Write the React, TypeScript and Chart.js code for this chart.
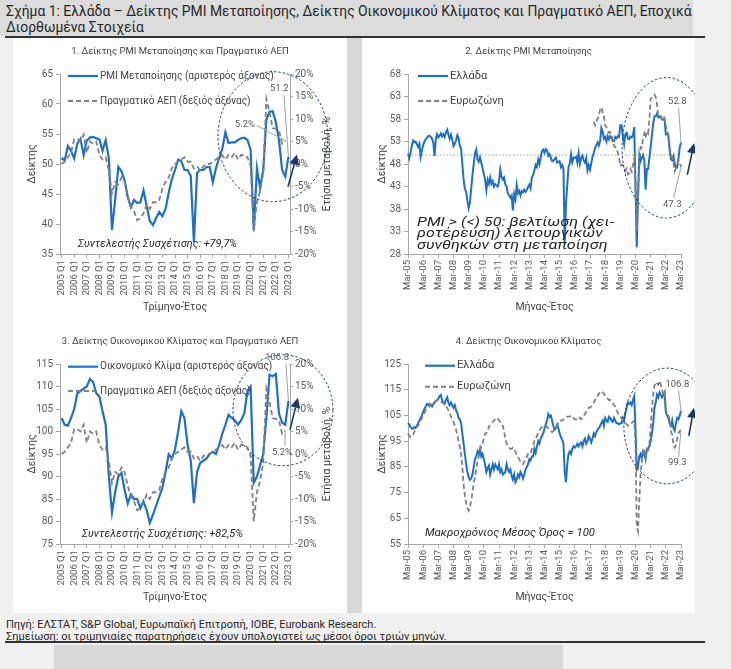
import React, { useEffect, useRef } from 'react';
import { Chart, registerables } from 'chart.js';

Chart.register(...registerables);

const FONT = "Roboto, 'Noto Sans', sans-serif";
Chart.defaults.font.family = FONT;

const BLUE = '#1f70c1';
const GREY = '#808080';
const NAVY = '#203864';
const AXIS = '#a6a6a6';
const TICK = '#595959';
const TEXT = '#404040';

// ---------------- categories ----------------
const quarterYears = [2005, 2006, 2007, 2008, 2009, 2010, 2011, 2012, 2013, 2014, 2015, 2016, 2017, 2018, 2019, 2020, 2021, 2022, 2023];
const quarterNames = ['Q1', 'Q2', 'Q3', 'Q4'];
const quarterCount = 73; // 2005 Q1 .. 2023 Q1
const quarterLabels: string[] = quarterYears.flatMap((y) => quarterNames.map((q) => `${y} ${q}`)).slice(0, quarterCount);

const monthNames = ['Jan', 'Feb', 'Mar', 'Apr', 'May', 'Jun', 'Jul', 'Aug', 'Sep', 'Oct', 'Nov', 'Dec'];
const monthCount = 217; // Mar-05 .. Mar-23
const monthLabels: string[] = quarterYears
  .flatMap((y) => monthNames.map((m) => `${m}-${String(y).slice(2)}`))
  .slice(2, 2 + monthCount);

// ---------------- panel 1 & 3 (quarterly) ----------------
const pmiQuarterly = [
  51.0, 50.6, 53.0, 52.2,
  50.9, 53.4, 54.2, 51.5,
  53.9, 54.4, 54.5, 54.3,
  54.1, 52.2, 54.0, 51.0,
  39.0, 44.0, 49.5, 48.8,
  47.3, 44.5, 42.8, 44.0,
  43.5, 43.6, 45.6, 43.0,
  40.5, 39.8, 41.0, 42.0,
  41.3, 42.5, 45.2, 47.5,
  49.0, 50.7, 50.5, 49.0,
  49.0, 48.0, 37.0, 48.5,
  49.0, 49.0, 49.5, 49.5,
  47.0, 49.3, 51.0, 52.5,
  55.3, 53.5, 53.6, 53.6,
  54.0, 54.3, 54.4, 54.0,
  52.4, 39.0, 49.3, 46.0,
  49.0, 57.4, 58.7, 58.8,
  57.0, 54.0, 49.0, 47.9,
  51.2,
];

const gdpQuarterly = [
  0.0, 0.5, 1.5, 2.5,
  5.5, 5.5, 5.0, 6.5,
  2.5, 5.0, 4.5, 5.0,
  2.0, 1.0, 1.5, -1.5,
  -6.5, -4.0, -4.5, -3.0,
  -4.0, -7.0, -9.5, -10.5,
  -12.5, -12.0, -11.0, -9.0,
  -10.0, -8.5, -8.5, -8.0,
  -5.5, -4.0, -3.0, -1.0,
  0.0, 0.5, 1.0, 1.5,
  0.5, 0.5, -1.0, -0.5,
  -1.5, -0.5, 0.0, 0.0,
  0.5, 1.0, 1.5, 2.0,
  1.0, 2.0, 1.5, 2.5,
  1.0, 2.0, 2.0, 1.5,
  -0.5, -15.0, -8.5, -6.0,
  -2.0, 14.5, 11.5, 8.0,
  7.8, 7.5, 4.5, 5.2,
  null,
];

const esiQuarterly = [
  103.0, 101.5, 101.3, 103.0,
  105.0, 108.5, 109.0, 109.5,
  110.0, 111.7, 111.0, 108.5,
  107.8, 104.5, 101.5, 90.0,
  82.0, 86.5, 90.0, 90.8,
  87.0, 84.0, 86.0, 85.0,
  85.0, 83.0, 84.5, 82.5,
  79.7, 81.5, 83.5, 85.5,
  87.5, 91.0, 94.9, 94.0,
  96.0, 100.0, 104.5, 103.0,
  97.0, 93.5, 84.1, 91.0,
  93.0, 93.5, 94.0, 95.0,
  95.5, 95.0, 97.0, 99.5,
  101.5, 103.7, 103.0, 102.5,
  101.5, 102.5, 104.0, 109.0,
  110.0, 88.6, 90.0, 92.5,
  95.0, 103.0, 112.6, 112.3,
  112.8, 104.0, 102.0, 101.5,
  106.8,
];

// ---------------- panel 2 (monthly PMI) ----------------
const pmiGreece = [
  50.3, 49.3, 50.5, 52.0, 53.2, 52.8, 53.0, 52.4, 51.8, 52.5, // 2005 Mar-Dec
  49.6, 51.0, 52.2, 53.0, 53.5, 53.8, 54.2, 54.3, 54.0, 53.6, 52.8, 49.8, // 2006
  53.5, 54.6, 53.9, 54.3, 54.8, 54.1, 54.6, 54.0, 55.0, 55.6, 54.5, 53.6, // 2007
  54.5, 53.5, 52.0, 52.5, 53.2, 54.4, 53.8, 52.0, 51.5, 48.0, 44.5, 42.5, // 2008
  41.8, 39.8, 38.2, 39.5, 42.5, 45.5, 48.0, 50.4, 51.2, 49.0, 48.5, 49.5, // 2009
  48.3, 47.0, 45.8, 44.5, 42.2, 44.5, 43.6, 45.0, 43.6, 44.2, 43.0, 43.5, // 2010
  43.2, 43.0, 44.0, 46.8, 45.2, 44.6, 45.0, 43.4, 43.0, 41.5, 41.0, 40.5, // 2011
  41.0, 37.7, 41.3, 40.2, 43.3, 41.5, 42.0, 41.0, 42.0, 41.7, 42.3, 41.8, // 2012
  42.2, 42.9, 43.4, 42.6, 45.0, 45.6, 46.6, 47.8, 47.3, 49.0, 48.0, 49.5, // 2013
  50.9, 51.2, 50.5, 51.3, 51.0, 49.8, 50.2, 49.5, 48.6, 48.7, 49.1, 49.4, // 2014
  48.3, 48.5, 48.6, 47.3, 47.8, 46.9, 30.2, 39.1, 43.3, 47.3, 48.1, 50.2, // 2015
  48.4, 49.4, 49.4, 49.6, 48.3, 50.4, 48.0, 49.3, 49.8, 48.8, 48.3, 49.3, // 2016
  46.6, 47.7, 46.7, 48.2, 49.6, 50.5, 51.6, 52.2, 52.8, 52.1, 53.1, 56.0, // 2017
  55.2, 53.6, 54.0, 53.0, 54.2, 53.5, 54.2, 53.8, 53.1, 53.1, 54.0, 53.7, // 2018
  54.2, 54.0, 56.6, 56.6, 54.2, 52.4, 54.6, 54.9, 53.6, 53.5, 54.1, 53.9, // 2019
  54.4, 56.2, 42.5, 29.5, 41.1, 49.9, 48.6, 49.4, 50.0, 48.7, 42.3, 46.9, // 2020
  46.9, 49.4, 51.8, 54.4, 57.0, 58.6, 58.6, 59.2, 58.4, 58.5, 58.6, 57.9, // 2021
  57.9, 57.8, 54.6, 54.7, 54.3, 51.1, 49.1, 48.8, 49.7, 48.1, 47.2, 47.2, // 2022
  49.2, 51.7, 52.8, // 2023 Jan-Mar
];

const pmiEurozoneFrom = 'Jun-17';
const pmiEurozoneValues = [
  57.4, 56.6, 57.4, 58.1, 58.5, 60.1, 60.6, // 2017 Jun-Dec
  59.6, 58.6, 56.6, 56.2, 55.5, 54.9, 55.1, 54.6, 53.2, 52.0, 51.8, 51.4, // 2018
  50.5, 49.3, 47.5, 47.9, 47.7, 47.6, 46.5, 47.0, 45.7, 45.9, 46.9, 46.3, // 2019
  47.9, 49.2, 44.5, 33.4, 39.4, 47.4, 51.8, 51.7, 53.7, 54.8, 53.8, 55.2, // 2020
  54.8, 57.9, 62.5, 62.9, 63.1, 63.4, 62.8, 61.4, 58.6, 58.3, 58.4, 58.0, // 2021
  58.7, 58.2, 56.5, 55.5, 54.6, 52.1, 49.8, 49.6, 48.4, 46.4, 47.1, 47.8, // 2022
  48.8, 48.5, 47.3, // 2023
];
const pmiEurozone: (number | null)[] = monthLabels.map((_, i) => {
  const start = monthLabels.indexOf(pmiEurozoneFrom);
  return i >= start ? pmiEurozoneValues[i - start] : null;
});

// ---------------- panel 4 (monthly ESI) ----------------
const esiGreece = [
  102.0, 101.5, 100.5, 100.0, 99.8, 100.5, 100.2, 101.0, 102.0, 103.0, // 2005 Mar-Dec
  104.0, 105.0, 106.5, 107.5, 108.5, 109.5, 109.0, 109.5, 109.0, 108.5, 109.5, 110.0, // 2006
  110.5, 111.0, 111.5, 112.5, 113.0, 111.0, 110.0, 109.5, 111.0, 112.0, 110.0, 109.0, // 2007
  110.0, 109.0, 108.0, 109.0, 107.0, 106.0, 104.0, 103.5, 102.0, 98.0, 94.0, 90.0, // 2008
  86.0, 83.0, 81.0, 80.0, 80.5, 82.0, 85.0, 88.0, 89.0, 91.0, 90.0, 92.0, // 2009
  89.0, 90.0, 88.0, 86.0, 83.0, 84.5, 85.5, 82.0, 84.0, 86.0, 84.0, 86.0, // 2010
  85.0, 84.0, 86.0, 83.0, 84.0, 82.0, 82.5, 83.0, 86.0, 84.0, 83.0, 84.0, // 2011
  81.5, 80.0, 82.0, 79.0, 80.0, 82.0, 81.0, 83.0, 82.0, 80.5, 82.0, 84.0, // 2012
  85.0, 86.0, 88.0, 87.5, 89.0, 89.0, 92.0, 90.5, 93.0, 95.0, 94.0, 96.0, // 2013
  97.0, 98.0, 100.0, 101.5, 103.0, 105.5, 104.5, 105.0, 103.0, 101.0, 99.5, 100.0, // 2014
  101.5, 100.0, 98.0, 96.5, 95.5, 94.0, 83.0, 79.0, 86.0, 90.0, 91.0, 90.0, // 2015
  92.0, 93.0, 92.5, 93.0, 94.0, 93.0, 94.0, 94.5, 93.0, 95.0, 96.0, 94.0, // 2016
  95.0, 97.0, 96.0, 94.5, 96.0, 98.0, 97.0, 98.5, 99.5, 100.0, 101.0, 102.0, // 2017
  103.0, 101.0, 104.0, 103.0, 102.5, 104.5, 104.0, 103.0, 102.5, 104.0, 103.0, 102.0, // 2018
  102.0, 101.5, 102.0, 102.0, 104.0, 103.0, 106.0, 108.0, 110.0, 109.5, 110.0, 109.0, // 2019
  111.0, 112.5, 100.0, 84.0, 85.0, 89.0, 90.0, 88.0, 91.0, 90.0, 88.0, 92.0, // 2020
  92.0, 93.0, 95.0, 98.0, 102.0, 108.0, 110.0, 113.0, 112.0, 114.0, 113.0, 112.0, // 2021
  113.0, 114.0, 106.0, 105.0, 104.0, 102.0, 101.0, 103.0, 100.0, 99.0, 102.0, 104.0, // 2022
  103.5, 105.0, 106.8, // 2023
];

const esiEurozone = [
  98.0, 97.0, 96.5, 97.0, 97.5, 98.5, 99.5, 100.5, 101.0, 102.0, // 2005 Mar-Dec
  103.0, 104.0, 105.0, 106.0, 107.0, 107.5, 108.0, 108.5, 109.0, 109.5, 110.0, 110.5, // 2006
  110.5, 111.0, 111.0, 111.0, 110.5, 110.0, 110.0, 109.0, 108.5, 108.0, 107.0, 106.0, // 2007
  104.5, 103.5, 102.5, 101.0, 99.5, 97.5, 95.0, 93.0, 90.0, 85.0, 78.0, 74.0, // 2008
  71.0, 69.0, 68.0, 69.5, 72.0, 75.0, 78.5, 81.0, 84.0, 87.0, 89.0, 91.0, // 2009
  93.0, 94.0, 96.0, 98.0, 98.0, 99.0, 100.5, 101.5, 102.0, 102.5, 103.0, 103.5, // 2010
  103.5, 104.0, 103.0, 102.5, 102.0, 101.0, 99.0, 96.0, 94.0, 93.0, 92.5, 92.0, // 2011
  92.0, 92.5, 92.0, 91.0, 89.5, 89.0, 88.0, 87.0, 86.5, 86.0, 87.0, 88.0, // 2012
  89.0, 90.0, 90.0, 90.0, 92.0, 93.0, 95.0, 96.0, 97.0, 98.0, 99.0, 100.0, // 2013
  100.5, 101.0, 101.0, 101.0, 100.5, 100.0, 99.5, 99.0, 98.5, 99.0, 99.5, 100.0, // 2014
  101.0, 102.0, 103.0, 103.0, 103.0, 103.5, 104.0, 104.0, 104.5, 104.5, 104.5, 105.0, // 2015
  104.5, 104.0, 103.5, 103.5, 104.0, 104.5, 104.0, 103.5, 104.0, 105.0, 105.5, 106.5, // 2016
  107.0, 108.0, 108.0, 108.5, 109.0, 110.0, 111.0, 111.5, 112.5, 113.5, 114.0, 114.5, // 2017
  114.0, 113.5, 112.5, 112.0, 111.5, 111.0, 111.0, 110.5, 110.0, 109.0, 108.5, 107.0, // 2018
  106.0, 105.0, 104.5, 104.0, 103.0, 102.5, 102.0, 101.5, 101.0, 101.0, 101.5, 102.0, // 2019
  102.5, 103.0, 94.0, 62.0, 60.0, 72.0, 82.0, 87.0, 90.0, 91.0, 89.0, 92.0, // 2020
  91.5, 94.0, 100.5, 108.0, 113.0, 116.5, 118.0, 117.5, 117.0, 118.5, 117.0, 115.0, // 2021
  113.0, 114.0, 108.0, 105.0, 105.0, 103.5, 99.0, 97.5, 93.5, 92.5, 93.5, 96.0, // 2022
  98.0, 99.0, 99.3, // 2023
];

// ---------------- decoration plugin ----------------
type Pt = [number, number];
interface Decor {
  title: string;
  legend: { x1: number; x2: number; tx: number; size: number; rows: { y: number; text: string; dashed: boolean }[] };
  note: { x: number; y: number; align: CanvasTextAlign; font: string; fit: number; lh: number; lines: string[] };
  rightTitle?: { text: string; dx: number };
  refLine?: number;
  ellipse: { c: Pt; r: Pt; axis: string };
  arrow: { from: Pt; to: Pt; axis: string };
  callouts: { text: string; at: Pt; from: Pt; axis: string; dataset: number }[];
}

function decorPlugin(d: Decor) {
  return {
    id: 'decor',
    beforeDatasetsDraw(chart: any) {
      if (d.refLine === undefined) return;
      const { ctx, chartArea } = chart;
      const y = chart.scales.y.getPixelForValue(d.refLine);
      ctx.save();
      ctx.strokeStyle = '#9a9a9a';
      ctx.lineWidth = 1;
      ctx.setLineDash([1.5, 2]);
      ctx.beginPath();
      ctx.moveTo(chartArea.left, y);
      ctx.lineTo(chartArea.right, y);
      ctx.stroke();
      ctx.restore();
    },
    afterDatasetsDraw(chart: any) {
      const ctx: CanvasRenderingContext2D = chart.ctx;
      const xs = chart.scales.x;
      const px = (p: Pt, axis: string): Pt => [xs.getPixelForValue(p[0]), chart.scales[axis].getPixelForValue(p[1])];
      ctx.save();
      // ellipse
      const [cx, cy] = px(d.ellipse.c, d.ellipse.axis);
      const rx = Math.abs(xs.getPixelForValue(d.ellipse.c[0] + d.ellipse.r[0]) - cx);
      const ry = Math.abs(chart.scales[d.ellipse.axis].getPixelForValue(d.ellipse.c[1] + d.ellipse.r[1]) - cy);
      ctx.strokeStyle = NAVY;
      ctx.lineWidth = 1;
      ctx.setLineDash([2.5, 2]);
      ctx.beginPath();
      ctx.ellipse(cx, cy, rx, ry, 0, 0, Math.PI * 2);
      ctx.stroke();
      ctx.setLineDash([]);
      // callouts
      for (const c of d.callouts) {
        const data = chart.data.datasets[c.dataset].data as (number | null)[];
        let last = data.length - 1;
        while (last > 0 && data[last] == null) last--;
        const el = chart.getDatasetMeta(c.dataset).data[last];
        const [fx, fy] = px(c.from, c.axis);
        ctx.strokeStyle = '#a0a0a0';
        ctx.lineWidth = 1;
        ctx.beginPath();
        ctx.moveTo(fx, fy);
        ctx.lineTo(el.x, el.y);
        ctx.stroke();
        const [tx, ty] = px(c.at, c.axis);
        ctx.fillStyle = TICK;
        ctx.font = `9.5px ${FONT}`;
        ctx.textAlign = 'center';
        ctx.textBaseline = 'middle';
        ctx.fillText(c.text, tx, ty);
      }
      // arrow
      const [x1, y1] = px(d.arrow.from, d.arrow.axis);
      const [x2, y2] = px(d.arrow.to, d.arrow.axis);
      const ang = Math.atan2(y2 - y1, x2 - x1);
      const hl = 10;
      const hw = 5;
      const bx = x2 - hl * Math.cos(ang);
      const by = y2 - hl * Math.sin(ang);
      ctx.strokeStyle = NAVY;
      ctx.fillStyle = NAVY;
      ctx.lineWidth = 1.6;
      ctx.beginPath();
      ctx.moveTo(x1, y1);
      ctx.lineTo(bx, by);
      ctx.stroke();
      ctx.beginPath();
      ctx.moveTo(x2, y2);
      ctx.lineTo(bx + hw * Math.sin(ang), by - hw * Math.cos(ang));
      ctx.lineTo(bx - hw * Math.sin(ang), by + hw * Math.cos(ang));
      ctx.closePath();
      ctx.fill();
      ctx.restore();
    },
    afterDraw(chart: any) {
      const ctx: CanvasRenderingContext2D = chart.ctx;
      const { chartArea } = chart;
      ctx.save();
      // title
      ctx.fillStyle = TEXT;
      ctx.font = `9.5px ${FONT}`;
      ctx.textAlign = 'center';
      ctx.textBaseline = 'middle';
      ctx.fillText(d.title, chart.width / 2, 12);
      // legend
      const lg = d.legend;
      for (const r of lg.rows) {
        ctx.beginPath();
        if (r.dashed) {
          ctx.strokeStyle = GREY;
          ctx.lineWidth = 2;
          ctx.setLineDash([5, 3]);
        } else {
          ctx.strokeStyle = BLUE;
          ctx.lineWidth = 2.2;
          ctx.setLineDash([]);
        }
        ctx.moveTo(lg.x1, r.y);
        ctx.lineTo(lg.x2, r.y);
        ctx.stroke();
        ctx.setLineDash([]);
        ctx.fillStyle = TEXT;
        ctx.font = `${lg.size}px ${FONT}`;
        ctx.textAlign = 'left';
        ctx.fillText(r.text, lg.tx, r.y);
      }
      // note (horizontally fitted to the measured width of its first line)
      const n = d.note;
      ctx.fillStyle = '#262626';
      ctx.font = n.font;
      ctx.textAlign = n.align;
      const sx = n.fit / ctx.measureText(n.lines[0]).width;
      n.lines.forEach((line, i) => {
        ctx.save();
        ctx.translate(n.x, n.y + i * n.lh);
        ctx.scale(sx, 1);
        ctx.fillText(line, 0, 0);
        ctx.restore();
      });
      // right axis title (reads bottom-to-top)
      if (d.rightTitle) {
        ctx.translate(chartArea.right + d.rightTitle.dx, (chartArea.top + chartArea.bottom) / 2);
        ctx.rotate(-Math.PI / 2);
        ctx.fillStyle = TEXT;
        ctx.font = `10.5px ${FONT}`;
        ctx.textAlign = 'center';
        ctx.fillText(d.rightTitle.text, 0, 0);
      }
      ctx.restore();
    },
  };
}

// ---------------- scale helpers ----------------
function xScale(labels: string[], every: number, offset: boolean, title: string) {
  return {
    type: 'category',
    offset,
    border: { color: AXIS, width: 1 },
    grid: { display: true, drawOnChartArea: false, drawTicks: true, tickLength: 4, color: AXIS, offset: false },
    ticks: {
      autoSkip: false,
      maxRotation: 90,
      minRotation: 90,
      padding: 2,
      color: TICK,
      font: { size: 9.5 },
      callback: (_v: any, i: number) => (i % every === 0 ? labels[i] : null),
    },
    title: { display: true, text: title, color: TEXT, font: { size: 10.5 }, padding: { top: 0, bottom: 1.7 } },
    afterFit: (s: any) => {
      s.height = 61;
    },
  };
}

function yScale(min: number, max: number, step: number, position: 'left' | 'right', width: number, suffix: string, title?: string, titlePad = 0) {
  return {
    type: 'linear',
    position,
    min,
    max,
    border: { color: AXIS, width: 1 },
    grid: { display: true, drawOnChartArea: false, drawTicks: true, tickLength: position === 'left' ? 4 : 3, color: AXIS },
    ticks: { stepSize: step, padding: position === 'left' ? 3 : 2, color: TICK, font: { size: 10 }, callback: (v: any) => `${v}${suffix}` },
    title: title
      ? { display: true, text: title, color: TEXT, font: { size: 10.5 }, padding: { top: titlePad, bottom: 0 } }
      : { display: false },
    afterFit: (s: any) => {
      s.width = width;
    },
  };
}

const lineBlue = (data: (number | null)[], yAxisID: string, width: number) => ({
  data,
  yAxisID,
  borderColor: BLUE,
  borderWidth: width,
  pointRadius: 0,
  tension: 0,
  order: 1,
});
const lineGrey = (data: (number | null)[], yAxisID: string) => ({
  data,
  yAxisID,
  borderColor: GREY,
  borderWidth: 1.8,
  borderDash: [5, 3],
  pointRadius: 0,
  tension: 0,
  spanGaps: false,
  order: 0,
});

const corrFont = `italic 11px ${FONT}`;

// ---------------- chart configs ----------------
function panel1(): any {
  const decor: Decor = {
    title: '1. Δείκτης PMI Μεταποίησης και Πραγματικό ΑΕΠ',
    legend: {
      x1: 55, x2: 85, tx: 87, size: 10,
      rows: [
        { y: 36, text: 'PMI Μεταποίησης (αριστερός άξονας)', dashed: false },
        { y: 61, text: 'Πραγματικό ΑΕΠ (δεξιός άξονας)', dashed: true },
      ],
    },
    note: { x: 144.5, y: 204, align: 'center', font: corrFont, fit: 159, lh: 12, lines: ['Συντελεστής Συσχέτισης: +79,7%'] },
    rightTitle: { text: 'Ετήσια μεταβολή, %', dx: 37 },
    ellipse: { c: [67.1, 54.55], r: [17.45, 10.83], axis: 'y' },
    arrow: { from: [71.86, 46.2], to: [74.7, 51.57], axis: 'y' },
    callouts: [
      { text: '51.2', at: [69.1, 62.5], from: [70.6, 61.4], axis: 'y', dataset: 0 },
      { text: '5.2%', at: [58.2, 8.73], from: [62.0, 8.5], axis: 'y1', dataset: 1 },
    ],
  };
  return {
    type: 'line',
    data: { labels: quarterLabels, datasets: [lineBlue(pmiQuarterly, 'y', 2.2), lineGrey(gdpQuarterly, 'y1')] },
    options: {
      animation: false,
      responsive: false,
      layout: { padding: { top: 34, right: 0, bottom: 0, left: 0 } },
      plugins: { legend: { display: false }, tooltip: { enabled: false } },
      scales: {
        x: xScale(quarterLabels, 4, true, 'Τρίμηνο-Έτος'),
        y: yScale(35, 65, 5, 'left', 47, '', 'Δείκτης', 12.7),
        y1: yScale(-20, 20, 5, 'right', 57, '%'),
      },
    },
    plugins: [decorPlugin(decor)],
  };
}

function panel3(): any {
  const decor: Decor = {
    title: '3. Δείκτης Οικονομικού Κλίματος και Πραγματικό ΑΕΠ',
    legend: {
      x1: 55, x2: 85, tx: 87, size: 10,
      rows: [
        { y: 36.7, text: 'Οικονομικό Κλίμα (αριστερός άξονας)', dashed: false },
        { y: 61, text: 'Πραγματικό ΑΕΠ (δεξιός άξονας)', dashed: true },
      ],
    },
    note: { x: 149.5, y: 204, align: 'center', font: corrFont, fit: 161, lh: 12, lines: ['Συντελεστής Συσχέτισης: +82,5%'] },
    rightTitle: { text: 'Ετήσια μεταβολή, %', dx: 37 },
    ellipse: { c: [70.27, 104.73], r: [15.87, 12.33], axis: 'y' },
    arrow: { from: [72.5, 100.4], to: [75.0, 107.5], axis: 'y' },
    callouts: [
      { text: '106.8', at: [68.4, 116.4], from: [71.2, 115.1], axis: 'y', dataset: 0 },
      { text: '5.2%', at: [69.96, 0.29], from: [70.9, 1.85], axis: 'y1', dataset: 1 },
    ],
  };
  return {
    type: 'line',
    data: { labels: quarterLabels, datasets: [lineBlue(esiQuarterly, 'y', 2.2), lineGrey(gdpQuarterly, 'y1')] },
    options: {
      animation: false,
      responsive: false,
      layout: { padding: { top: 34, right: 0, bottom: 0, left: 0 } },
      plugins: { legend: { display: false }, tooltip: { enabled: false } },
      scales: {
        x: xScale(quarterLabels, 4, true, 'Τρίμηνο-Έτος'),
        y: yScale(75, 115, 5, 'left', 47, '', 'Δείκτης', 12.7),
        y1: yScale(-20, 20, 5, 'right', 57, '%'),
      },
    },
    plugins: [decorPlugin(decor)],
  };
}

function panel2(): any {
  const decor: Decor = {
    title: '2. Δείκτης PMI Μεταποίησης',
    legend: {
      x1: 56, x2: 86, tx: 88, size: 11,
      rows: [
        { y: 36, text: 'Ελλάδα', dashed: false },
        { y: 61, text: 'Ευρωζώνη', dashed: true },
      ],
    },
    note: {
      x: 55, y: 183, align: 'left', font: `italic 12px ${FONT}`, fit: 197, lh: 11.3,
      lines: ['PMI > (<) 50: βελτίωση (χει-', 'ροτέρευση) λειτουργικών', 'συνθηκών στη μεταποίηση'],
    },
    refLine: 50,
    ellipse: { c: [204.4, 51.6], r: [35, 15.6], axis: 'y' },
    arrow: { from: [221, 45.6], to: [226.3, 52.6], axis: 'y' },
    callouts: [
      { text: '52.8', at: [213.1, 61.9], from: [214.1, 60.5], axis: 'y', dataset: 0 },
      { text: '47.3', at: [209.1, 38.96], from: [210.1, 40.5], axis: 'y', dataset: 1 },
    ],
  };
  return {
    type: 'line',
    data: { labels: monthLabels, datasets: [lineBlue(pmiGreece, 'y', 2), lineGrey(pmiEurozone, 'y')] },
    options: {
      animation: false,
      responsive: false,
      layout: { padding: { top: 34, right: 14, bottom: 0, left: 0 } },
      plugins: { legend: { display: false }, tooltip: { enabled: false } },
      scales: {
        x: xScale(monthLabels, 12, false, 'Μήνας-Έτος'),
        y: yScale(28, 68, 5, 'left', 46, '', 'Δείκτης', 13.7),
      },
    },
    plugins: [decorPlugin(decor)],
  };
}

function panel4(): any {
  const decor: Decor = {
    title: '4. Δείκτης Οικονομικού Κλίματος',
    legend: {
      x1: 63, x2: 93, tx: 95, size: 11,
      rows: [
        { y: 35.7, text: 'Ελλάδα', dashed: false },
        { y: 56.7, text: 'Ευρωζώνη', dashed: true },
      ],
    },
    note: { x: 63, y: 203, align: 'left', font: `italic 11.5px ${FONT}`, fit: 170, lh: 12, lines: ['Μακροχρόνιος Μέσος Όρος = 100'] },
    ellipse: { c: [205.1, 100.9], r: [34.3, 22.5], axis: 'y' },
    arrow: { from: [222.2, 97.1], to: [226.2, 107.9], axis: 'y' },
    callouts: [
      { text: '106.8', at: [213.1, 116.95], from: [214.1, 114.6], axis: 'y', dataset: 0 },
      { text: '99.3', at: [213.1, 86.5], from: [214.1, 88.95], axis: 'y', dataset: 1 },
    ],
  };
  return {
    type: 'line',
    data: { labels: monthLabels, datasets: [lineBlue(esiGreece, 'y', 2), lineGrey(esiEurozone, 'y')] },
    options: {
      animation: false,
      responsive: false,
      layout: { padding: { top: 34, right: 14, bottom: 0, left: 0 } },
      plugins: { legend: { display: false }, tooltip: { enabled: false } },
      scales: {
        x: xScale(monthLabels, 12, false, 'Μήνας-Έτος'),
        y: yScale(55, 125, 10, 'left', 46, '', 'Δείκτης', 13.7),
      },
    },
    plugins: [decorPlugin(decor)],
  };
}

function Panel({ make, left, top, width, height }: { make: () => any; left: number; top: number; width: number; height: number }) {
  const ref = useRef<HTMLCanvasElement>(null);
  useEffect(() => {
    const chart = new Chart(ref.current as HTMLCanvasElement, make());
    return () => chart.destroy();
  }, []);
  return (
    <canvas
      ref={ref}
      width={width}
      height={height}
      style={{ position: 'absolute', left, top, width, height, display: 'block' }}
    />
  );
}

export default function App() {
  return (
    <div
      style={{
        position: 'absolute',
        left: 0,
        top: 0,
        width: 731,
        height: 669,
        background: '#f0f0f0',
        overflow: 'hidden',
        fontFamily: FONT,
      }}
    >
      <div style={{ position: 'absolute', left: 0, top: 0, width: 693, height: 36, background: '#dcdcdc' }} />
      <div
        style={{
          position: 'absolute',
          left: 6,
          top: 3,
          fontSize: 13.9,
          lineHeight: '16px',
          color: '#262626',
          whiteSpace: 'nowrap',
        }}
      >
        Σχήμα 1: Ελλάδα – Δείκτης PMI Μεταποίησης, Δείκτης Οικονομικού Κλίματος και Πραγματικό ΑΕΠ, Εποχικά
        <br />
        Διορθωμένα Στοιχεία
      </div>
      <div style={{ position: 'absolute', left: 5, top: 36, width: 700, height: 1.5, background: '#333' }} />
      <div style={{ position: 'absolute', left: 13, top: 38, width: 682, height: 575, background: '#ffffff' }} />
      <div style={{ position: 'absolute', left: 347, top: 38, width: 15, height: 575, background: '#d9d9d9' }} />
      <Panel make={panel1} left={13} top={40} width={334} height={275} />
      <Panel make={panel2} left={362} top={40} width={333} height={275} />
      <Panel make={panel3} left={13} top={330} width={334} height={275} />
      <Panel make={panel4} left={362} top={330} width={333} height={275} />
      <div style={{ position: 'absolute', left: 54, top: 645, width: 509, height: 24, background: '#d9d9d9' }} />
      <div
        style={{
          position: 'absolute',
          left: 6,
          top: 619,
          fontSize: 11,
          lineHeight: '11.5px',
          color: '#262626',
          whiteSpace: 'nowrap',
        }}
      >
        Πηγή: ΕΛΣΤΑΤ, S&amp;P Global, Ευρωπαϊκή Επιτροπή, ΙΟΒΕ, Eurobank Research.
        <br />
        Σημείωση: οι τριμηνιαίες παρατηρήσεις έχουν υπολογιστεί ως μέσοι όροι τριών μηνών.
      </div>
      <div style={{ position: 'absolute', left: 5, top: 641, width: 700, height: 1.5, background: '#333' }} />
    </div>
  );
}
